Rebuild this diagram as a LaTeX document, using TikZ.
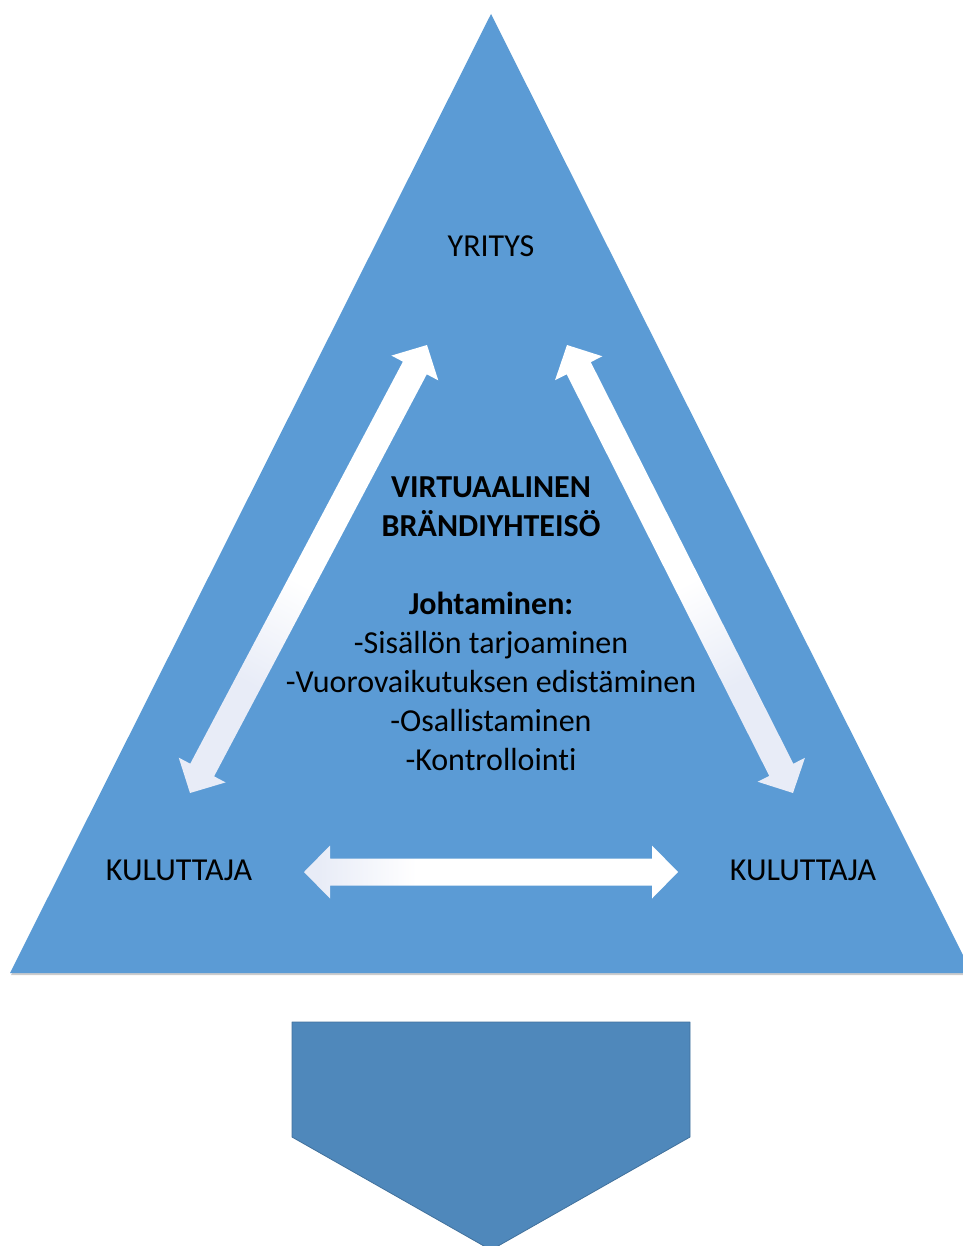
\documentclass[tikz,border=0pt]{standalone}
\usepackage{fontspec}
\setmainfont{Carlito}[Ligatures={NoCommon}]
\usetikzlibrary{calc}
\definecolor{triblue}{HTML}{5B9BD5}
\definecolor{pentblue}{HTML}{4F88BB}
\definecolor{pentedge}{HTML}{41719C}
\definecolor{arrowlight}{HTML}{E8ECF7}
\pgfdeclarehorizontalshading{arrowshade}{100bp}{color(0bp)=(arrowlight); color(27bp)=(arrowlight); color(40bp)=(white); color(100bp)=(white)}
\pgfdeclarehorizontalshading{diagshade}{100bp}{color(0bp)=(arrowlight); color(33bp)=(arrowlight); color(48bp)=(white); color(100bp)=(white)}
\tikzset{
  lbl/.style={font=\fontsize{32}{39}\selectfont, text=black, align=center, inner sep=0pt},
}
\newcommand\blockarrow[4]{% from A to B, shading, shading angle
  \path[shading=#3, shading angle=#4, draw=none]
    (#1) -- ($($(#1)!26pt!(#2)$)!26.5pt!90:(#2)$)
    -- ($($(#1)!26pt!(#2)$)!13.5pt!90:(#2)$)
    -- ($($(#2)!26pt!(#1)$)!13.5pt!-90:(#1)$)
    -- ($($(#2)!26pt!(#1)$)!26.5pt!-90:(#1)$)
    -- (#2)
    -- ($($(#2)!26pt!(#1)$)!26.5pt!90:(#1)$)
    -- ($($(#2)!26pt!(#1)$)!13.5pt!90:(#1)$)
    -- ($($(#1)!26pt!(#2)$)!13.5pt!-90:(#2)$)
    -- ($($(#1)!26pt!(#2)$)!26.5pt!-90:(#2)$)
    -- cycle;}
\begin{document}
\begin{tikzpicture}[x=1pt,y=-1pt]
\useasboundingbox (0,0) rectangle (962,1246);
% triangle
\fill[black!20] (491,15) -- (11,975) -- (971,975) -- cycle;
\fill[triblue] (491,14) -- (10,973) -- (972,973) -- cycle;
% pentagon arrow
\draw[fill=pentblue, draw=pentedge, line width=0.8pt, line join=round]
  (292,1022) -- (690,1022) -- (690,1137) -- (491,1250) -- (292,1137) -- cycle;
% arrow end coordinates
\coordinate (l1) at (190,793);
\coordinate (l2) at (427,345);
\coordinate (r1) at (567,345);
\coordinate (r2) at (793,793);
\coordinate (h1) at (304,872);
\coordinate (h2) at (678,872);
\blockarrow{l1}{l2}{diagshade}{62}
\blockarrow{r2}{r1}{diagshade}{118}
\blockarrow{h1}{h2}{arrowshade}{0}
% labels
\node[lbl] (yritys) at (491,246) {YRITYS};
\node[lbl] (kul1) at (179,870) {KULUTTAJA};
\node[lbl] (kul2) at (803,870) {KULUTTAJA};
\node[lbl, anchor=base] (vbc) at (491,770) {\textbf{VIRTUAALINEN}\\\textbf{BRÄNDIYHTEISÖ}\\[39pt]\textbf{Johtaminen:}\\-Sisällön tarjoaminen\\-Vuorovaikutuksen edistäminen\\-Osallistaminen\\-Kontrollointi};
\end{tikzpicture}
\end{document}
